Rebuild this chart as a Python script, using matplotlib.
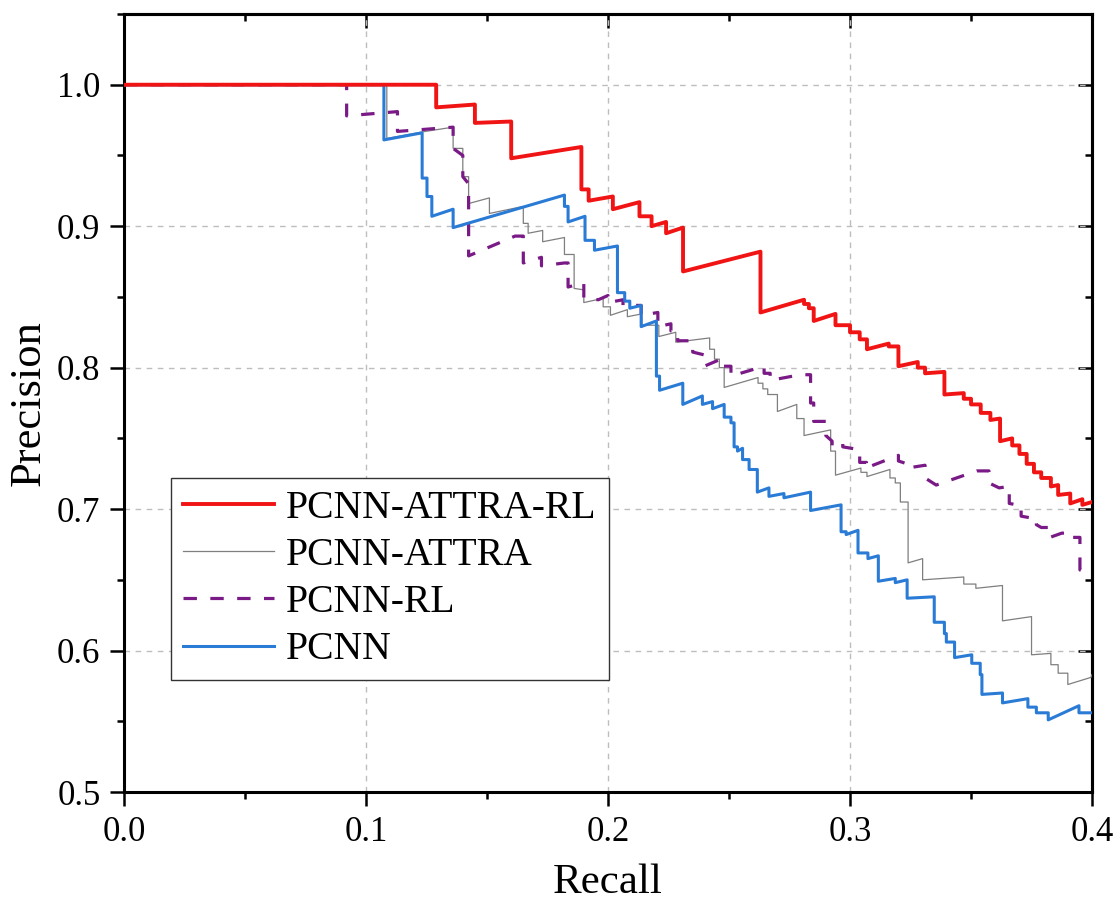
import matplotlib
matplotlib.use('Agg')
import matplotlib.pyplot as plt
from matplotlib.ticker import MultipleLocator, FormatStrFormatter

plt.rcParams['font.family'] = ['Liberation Serif', 'DejaVu Serif']

# ---------------- data ----------------
red_recall = [0.000, 0.129, 0.129, 0.145, 0.145, 0.160, 0.160, 0.189, 0.189, 0.192, 0.192, 0.202, 0.202,
              0.213, 0.213, 0.218, 0.218, 0.224, 0.224, 0.231, 0.231, 0.263, 0.263, 0.281, 0.281, 0.283,
              0.283, 0.285, 0.285, 0.294, 0.294, 0.300, 0.300, 0.304, 0.304, 0.307, 0.307, 0.316, 0.316,
              0.320, 0.320, 0.328, 0.328, 0.331, 0.331, 0.339, 0.339, 0.347, 0.347, 0.350, 0.350, 0.354,
              0.354, 0.358, 0.358, 0.362, 0.362, 0.367, 0.367, 0.370, 0.370, 0.373, 0.373, 0.376, 0.376,
              0.379, 0.379, 0.383, 0.383, 0.386, 0.386, 0.391, 0.391, 0.396, 0.396, 0.400]
red_precision = [1.000, 1.000, 0.984, 0.986, 0.973, 0.974, 0.948, 0.956, 0.926, 0.926, 0.918, 0.921, 0.912,
                 0.917, 0.907, 0.907, 0.900, 0.903, 0.895, 0.899, 0.868, 0.882, 0.839, 0.848, 0.845, 0.845,
                 0.842, 0.842, 0.833, 0.838, 0.830, 0.830, 0.825, 0.825, 0.820, 0.820, 0.813, 0.817, 0.815,
                 0.815, 0.801, 0.804, 0.800, 0.800, 0.796, 0.797, 0.781, 0.782, 0.778, 0.778, 0.774, 0.774,
                 0.768, 0.768, 0.763, 0.764, 0.748, 0.750, 0.745, 0.745, 0.739, 0.739, 0.732, 0.732, 0.726,
                 0.726, 0.722, 0.722, 0.716, 0.717, 0.710, 0.711, 0.704, 0.707, 0.703, 0.705]

gray_recall = [0.000, 0.1086, 0.1086, 0.1245, 0.136, 0.136, 0.140, 0.140, 0.1424, 0.1424, 0.151, 0.151,
               0.165, 0.165, 0.167, 0.167, 0.173, 0.173, 0.182, 0.182, 0.186, 0.186, 0.190, 0.190, 0.198,
               0.198, 0.201, 0.201, 0.208, 0.208, 0.214, 0.214, 0.221, 0.221, 0.228, 0.228, 0.242, 0.242,
               0.244, 0.244, 0.246, 0.246, 0.248, 0.248, 0.262, 0.262, 0.264, 0.264, 0.266, 0.266, 0.270,
               0.270, 0.278, 0.278, 0.281, 0.281, 0.292, 0.292, 0.294, 0.294, 0.3045, 0.3045, 0.307, 0.307,
               0.3165, 0.3165, 0.3187, 0.3187, 0.3208, 0.3208, 0.324, 0.324, 0.330, 0.330, 0.347, 0.347,
               0.352, 0.352, 0.363, 0.363, 0.375, 0.375, 0.383, 0.383, 0.386, 0.386, 0.390, 0.390, 0.3995,
               0.400]
gray_precision = [1.000, 1.000, 0.962, 0.967, 0.970, 0.955, 0.955, 0.935, 0.935, 0.916, 0.920, 0.909,
                  0.914, 0.902, 0.902, 0.895, 0.897, 0.889, 0.892, 0.880, 0.880, 0.856, 0.855, 0.846, 0.849,
                  0.843, 0.843, 0.837, 0.841, 0.836, 0.838, 0.830, 0.830, 0.822, 0.825, 0.818, 0.821, 0.813,
                  0.813, 0.806, 0.806, 0.800, 0.800, 0.786, 0.793, 0.789, 0.789, 0.785, 0.785, 0.781, 0.781,
                  0.769, 0.774, 0.764, 0.764, 0.752, 0.756, 0.741, 0.741, 0.724, 0.729, 0.726, 0.726, 0.723,
                  0.728, 0.722, 0.722, 0.7185, 0.7185, 0.705, 0.705, 0.662, 0.665, 0.650, 0.652, 0.647,
                  0.647, 0.644, 0.646, 0.621, 0.624, 0.597, 0.598, 0.590, 0.590, 0.584, 0.584, 0.576, 0.581,
                  0.583]

purple_recall = [0.000, 0.092, 0.092, 0.113, 0.113, 0.136, 0.136, 0.140, 0.140, 0.1424, 0.1424, 0.1616,
                 0.165, 0.165, 0.1725, 0.1725, 0.182, 0.1835, 0.1835, 0.190, 0.190, 0.196, 0.200, 0.200,
                 0.2062, 0.2062, 0.2137, 0.2137, 0.2206, 0.2206, 0.226, 0.226, 0.2288, 0.2288, 0.235, 0.235,
                 0.2398, 0.2398, 0.2466, 0.2466, 0.2508, 0.2508, 0.2645, 0.2645, 0.267, 0.267, 0.2795,
                 0.2837, 0.2837, 0.285, 0.285, 0.290, 0.290, 0.2926, 0.2926, 0.297, 0.297, 0.304, 0.304,
                 0.3068, 0.3068, 0.308, 0.320, 0.320, 0.3236, 0.3236, 0.331, 0.331, 0.3356, 0.3524, 0.3574,
                 0.3574, 0.3616, 0.3658, 0.3658, 0.369, 0.3707, 0.3707, 0.374, 0.377, 0.377, 0.379, 0.3826,
                 0.3826, 0.3875, 0.391, 0.391, 0.395, 0.395, 0.400]
purple_precision = [1.000, 1.000, 0.978, 0.981, 0.967, 0.970, 0.955, 0.950, 0.935, 0.930, 0.879, 0.893,
                    0.893, 0.874, 0.878, 0.872, 0.874, 0.874, 0.857, 0.860, 0.849, 0.848, 0.851, 0.846,
                    0.848, 0.844, 0.844, 0.837, 0.839, 0.829, 0.831, 0.826, 0.826, 0.819, 0.819, 0.811,
                    0.809, 0.801, 0.806, 0.801, 0.801, 0.794, 0.801, 0.796, 0.796, 0.791, 0.795,
                    0.795, 0.775, 0.775, 0.762, 0.762, 0.752, 0.748, 0.745, 0.7475, 0.744, 0.742, 0.733,
                    0.733, 0.728, 0.730, 0.738, 0.734, 0.732, 0.729, 0.731, 0.722, 0.717, 0.727, 0.727,
                    0.7185, 0.715, 0.716, 0.704, 0.703, 0.703, 0.695, 0.694, 0.694, 0.689, 0.687, 0.687,
                    0.680, 0.683, 0.683, 0.680, 0.680, 0.657, 0.654]

blue_recall = [0.000, 0.1074, 0.1074, 0.1232, 0.1232, 0.1252, 0.1252, 0.1272, 0.1272, 0.136, 0.136, 0.182,
               0.182, 0.1835, 0.1835, 0.1905, 0.1905, 0.1944, 0.1944, 0.2039, 0.2039, 0.2069, 0.2069, 0.209,
               0.209, 0.2137, 0.2137, 0.220, 0.220, 0.2213, 0.2213, 0.2309, 0.2309, 0.239, 0.239, 0.2432,
               0.2432, 0.248, 0.248, 0.2508, 0.2508, 0.2521, 0.2521, 0.2535, 0.2535, 0.2556, 0.2556, 0.2583,
               0.2583, 0.2617, 0.2617, 0.2665, 0.2665, 0.2727, 0.2727, 0.2837, 0.2837, 0.2963, 0.2963,
               0.2984, 0.2984, 0.3033, 0.3033, 0.3074, 0.3074, 0.3117, 0.3117, 0.3187, 0.3187, 0.3236,
               0.3236, 0.3348, 0.3348, 0.339, 0.339, 0.3398, 0.3398, 0.3432, 0.3432, 0.3503, 0.3503, 0.3538,
               0.3538, 0.3545, 0.3545, 0.363, 0.363, 0.3735, 0.3735, 0.377, 0.377, 0.3819, 0.3819, 0.3946,
               0.3946, 0.400]
blue_precision = [1.000, 1.000, 0.961, 0.966, 0.934, 0.934, 0.921, 0.921, 0.907, 0.912, 0.899, 0.922,
                  0.914, 0.914, 0.903, 0.907, 0.890, 0.890, 0.883, 0.886, 0.853, 0.853, 0.847, 0.847,
                  0.842, 0.844, 0.829, 0.833, 0.794, 0.794, 0.784, 0.789, 0.774, 0.780, 0.774, 0.776,
                  0.771, 0.774, 0.765, 0.765, 0.761, 0.761, 0.744, 0.744, 0.741, 0.743, 0.735, 0.735,
                  0.728, 0.728, 0.712, 0.715, 0.709, 0.711, 0.708, 0.712, 0.699, 0.703, 0.684,
                  0.684, 0.682, 0.685, 0.669, 0.669, 0.665, 0.667, 0.649, 0.651, 0.648, 0.650,
                  0.637, 0.638, 0.620, 0.620, 0.612, 0.612, 0.606, 0.606, 0.595, 0.597, 0.591, 0.591,
                  0.583, 0.583, 0.569, 0.570, 0.563, 0.566, 0.560, 0.560, 0.556, 0.556, 0.551, 0.561,
                  0.556, 0.556]

labels = ['PCNN-ATTRA-RL', 'PCNN-ATTRA', 'PCNN-RL', 'PCNN']
x_ticks = [0.0, 0.1, 0.2, 0.3, 0.4]
y_ticks = [0.5, 0.6, 0.7, 0.8, 0.9, 1.0]

# ---------------- figure ----------------
fig = plt.figure(figsize=(11.15, 9.09), dpi=100)
ax = fig.add_axes([0.1112, 0.1287, 0.8682, 0.8559])

l_gray, = ax.plot(gray_recall, gray_precision, color='#7f7f7f', lw=0.9, label=labels[1], zorder=3)
l_purple, = ax.plot(purple_recall, purple_precision, color='#7a1a86', lw=2.3,
                    dashes=(4.2, 4.2), label=labels[2], zorder=4)
l_blue, = ax.plot(blue_recall, blue_precision, color='#2a7bd6', lw=2.2, label=labels[3], zorder=5)
l_red, = ax.plot(red_recall, red_precision, color='#f01414', lw=2.8, label=labels[0], zorder=6)

ax.set_xlim(0, 0.4)
ax.set_ylim(0.5, 1.05)
ax.set_xticks(x_ticks)
ax.set_yticks(y_ticks)
ax.xaxis.set_minor_locator(MultipleLocator(0.05))
ax.yaxis.set_minor_locator(MultipleLocator(0.05))
ax.xaxis.set_major_formatter(FormatStrFormatter('%.1f'))
ax.yaxis.set_major_formatter(FormatStrFormatter('%.1f'))
ax.tick_params(which='major', direction='out', length=10, width=1.8, labelsize=25, pad=7)
ax.tick_params(which='minor', direction='out', length=5, width=1.8)
for sp in ax.spines.values():
    sp.set_linewidth(2.2)

ax.grid(True, which='major', linestyle=(0, (4, 4)), color='#bdbdbd', linewidth=1.0)
ax.set_axisbelow(True)

secx = ax.secondary_xaxis('top')
secx.set_xticks(x_ticks)
secx.xaxis.set_minor_locator(MultipleLocator(0.05))
secx.tick_params(which='major', direction='in', length=10, width=1.8, labeltop=False)
secx.tick_params(which='minor', direction='in', length=5, width=1.8)
secx.spines['top'].set_linewidth(2.2)
secy = ax.secondary_yaxis('right')
secy.set_yticks(y_ticks)
secy.yaxis.set_minor_locator(MultipleLocator(0.05))
secy.tick_params(which='major', direction='in', length=10, width=1.8, labelright=False)
secy.tick_params(which='minor', direction='in', length=5, width=1.8)
secy.spines['right'].set_linewidth(2.2)

ax.set_xlabel('Recall', fontsize=31, labelpad=11)
ax.set_ylabel('Precision', fontsize=32, labelpad=6)

leg = ax.legend(handles=[l_red, l_gray, l_purple, l_blue], loc='upper left',
                bbox_to_anchor=(0.049, 0.404), fontsize=28.5, frameon=True, fancybox=False,
                framealpha=1, edgecolor='#333333', handlelength=2.3, handletextpad=0.3,
                borderpad=0.3, labelspacing=0.26, borderaxespad=0)
leg.get_frame().set_linewidth(1.0)
leg.set_zorder(10)

fig.savefig('out.png', dpi=100)
